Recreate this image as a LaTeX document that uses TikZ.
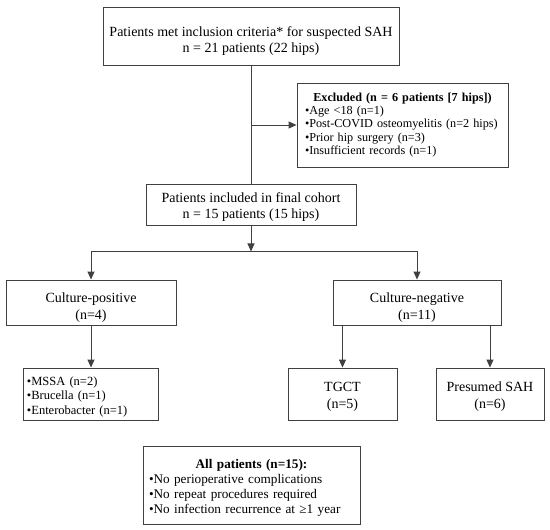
\documentclass[tikz,border=0pt]{standalone}
\usepackage{fontspec}
\setmainfont{Liberation Serif}
\usetikzlibrary{arrows.meta,positioning}
\setlength{\parindent}{0pt}
\newcommand{\titleline}[1]{\hbox to\hsize{\hss\textbf{#1}\hss}}
\newcommand{\toppad}[1]{\rule{0pt}{#1}}

\begin{document}
\begin{tikzpicture}[x=1pt, y=-1pt,
  block/.style={rectangle, draw=black!75, line width=0.9pt, align=center,
    inner sep=0pt, font=\fontsize{14}{16.5}\selectfont},
  list block/.style={block, align=left, font=\fontsize{12.2}{13.3}\selectfont},
  line/.style={draw=black!75, line width=1pt},
  arrow/.style={line, -{Triangle[length=8pt,width=7pt]}},
  ]
  \useasboundingbox (0,0) rectangle (550,530);

  \node (inclusion) [block, minimum width=296pt, minimum height=58pt] at (251,36)
    {\toppad{20pt}Patients met inclusion criteria* for suspected SAH\\n = 21 patients (22 hips)};
  \node (excluded) [list block, inner xsep=8pt, text width=195pt, minimum height=84pt] at (402.5,125)
    {\titleline{Excluded (n = 6 patients [7 hips])}\\
     •Age <18 (n=1)\\•Post-COVID osteomyelitis (n=2 hips)\\•Prior hip surgery (n=3)\\•Insufficient records (n=1)};
  \node (cohort) [block, minimum width=210pt, minimum height=41pt] at (251,204.5)
    {\toppad{15pt}Patients included in final cohort\\n = 15 patients (15 hips)};

  \node (positive) [block, minimum width=170pt, minimum height=45pt] at (91,302.5) {\toppad{20pt}Culture-positive\\(n=4)};
  \node (negative) [block, minimum width=168pt, minimum height=45pt] at (417,302.5) {\toppad{20pt}Culture-negative\\(n=11)};

  \node (organisms) [list block, inner xsep=4pt, text width=127pt, minimum height=52pt,
    font=\fontsize{12.5}{14.5}\selectfont] at (90.5,394)
    {\toppad{14.5pt}•MSSA (n=2)\\•Brucella (n=1)\\•Enterobacter (n=1)};
  \node (tgct) [block, minimum width=109pt, minimum height=52pt] at (342.5,394) {\toppad{15pt}TGCT\\(n=5)};
  \node (sah) [block, minimum width=108pt, minimum height=52pt] at (490,394) {\toppad{15pt}Presumed SAH\\(n=6)};

  \node (all) [list block, inner xsep=6pt, text width=205pt, minimum height=78pt,
    font=\fontsize{13.2}{15}\selectfont] at (251.5,485)
    {\toppad{15pt}\titleline{All patients (n=15):}\\
     •No perioperative complications\\•No repeat procedures required\\•No infection recurrence at ≥1 year};

  % special edges:
  \coordinate (split) at (inclusion.south |- excluded.west);
  \coordinate [below=26pt of cohort.south] (fork);
  \path[line] (inclusion) -- (cohort);
  \path[arrow] (split) -- (excluded);
  \path[arrow] (cohort) -- (fork);
  \path[arrow] (fork) -| (positive);
  \path[arrow] (fork) -| (negative);
  \path[arrow] (positive) -- (organisms.north -| positive.south);
  \path[arrow] (tgct.north |- negative.south) -- (tgct);
  \path[arrow] (sah.north |- negative.south) -- (sah);
\end{tikzpicture}
\end{document}
